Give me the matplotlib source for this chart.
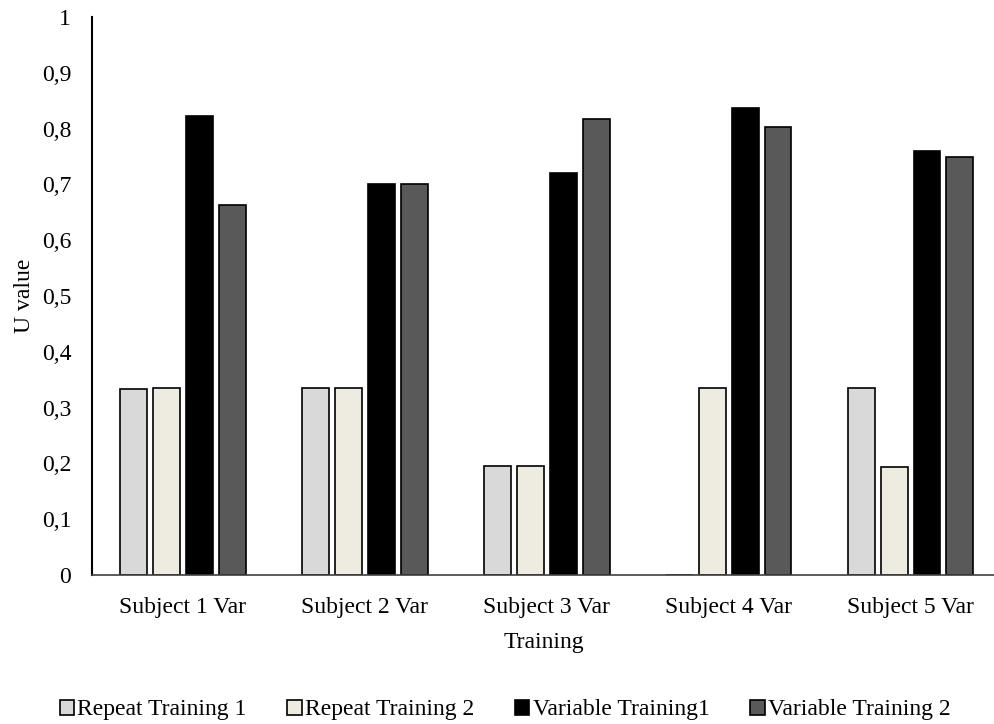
import numpy as np
import matplotlib
matplotlib.use("Agg")
import matplotlib.pyplot as plt

plt.rcParams['font.family'] = ['Liberation Serif', 'DejaVu Serif']

subjects = ["Subject 1 Var", "Subject 2 Var", "Subject 3 Var", "Subject 4 Var", "Subject 5 Var"]
series = ["Repeat Training 1", "Repeat Training 2", "Variable Training1", "Variable Training 2"]
repeat1 = [0.333, 0.335, 0.195, 0.0, 0.335]
repeat2 = [0.335, 0.335, 0.195, 0.335, 0.194]
variable1 = [0.822, 0.700, 0.720, 0.837, 0.760]
variable2 = [0.663, 0.700, 0.817, 0.803, 0.750]
colors = ["#D9D9D9", "#EEECE1", "#000000", "#595959"]
yticks = [0, 0.1, 0.2, 0.3, 0.4, 0.5, 0.6, 0.7, 0.8, 0.9, 1]

fig = plt.figure(figsize=(9.95, 7.24), dpi=100)
# axes from x=92 to the right edge, y from 575 (0) up to 17 (1)
ax = fig.add_axes([92 / 995, (724 - 575) / 724, (995 - 92) / 995, (575 - 17) / 724])

x = np.arange(len(subjects))
w = 0.148
step = 0.181
for i, (vals, lab) in enumerate(zip([repeat1, repeat2, variable1, variable2], series)):
    ax.bar(x + (i - 1.5) * step, vals, w, color=colors[i], edgecolor="black",
           linewidth=1.2, label=lab, zorder=2)

ax.set_xlim(-0.5, -0.5 + 903 / 181.9)
ax.set_ylim(0, 1)
ax.set_yticks(yticks)
ax.set_yticklabels([("%g" % t).replace(".", ",") for t in yticks], fontsize=17)
ax.set_xticks(x)
ax.set_xticklabels(subjects, fontsize=17)
ax.tick_params(axis="y", length=0, pad=15)
ax.tick_params(axis="x", length=0, pad=15.5)
ax.spines["top"].set_visible(False)
ax.spines["right"].set_visible(False)
ax.spines["left"].set_color("black")
ax.spines["left"].set_linewidth(1.5)
ax.spines["bottom"].set_color("#404040")
ax.spines["bottom"].set_linewidth(1.2)
ax.set_xlabel("Training", fontsize=17, labelpad=10.5)
ax.set_ylabel("U value", fontsize=17, labelpad=5)

fig.legend(loc="center", bbox_to_anchor=(0.5075, 0.0194), ncol=4, frameon=False,
           fontsize=17, handlelength=0.62, handleheight=0.6, handletextpad=0.13,
           columnspacing=1.72, borderpad=0)

fig.savefig("out.png", dpi=100)
